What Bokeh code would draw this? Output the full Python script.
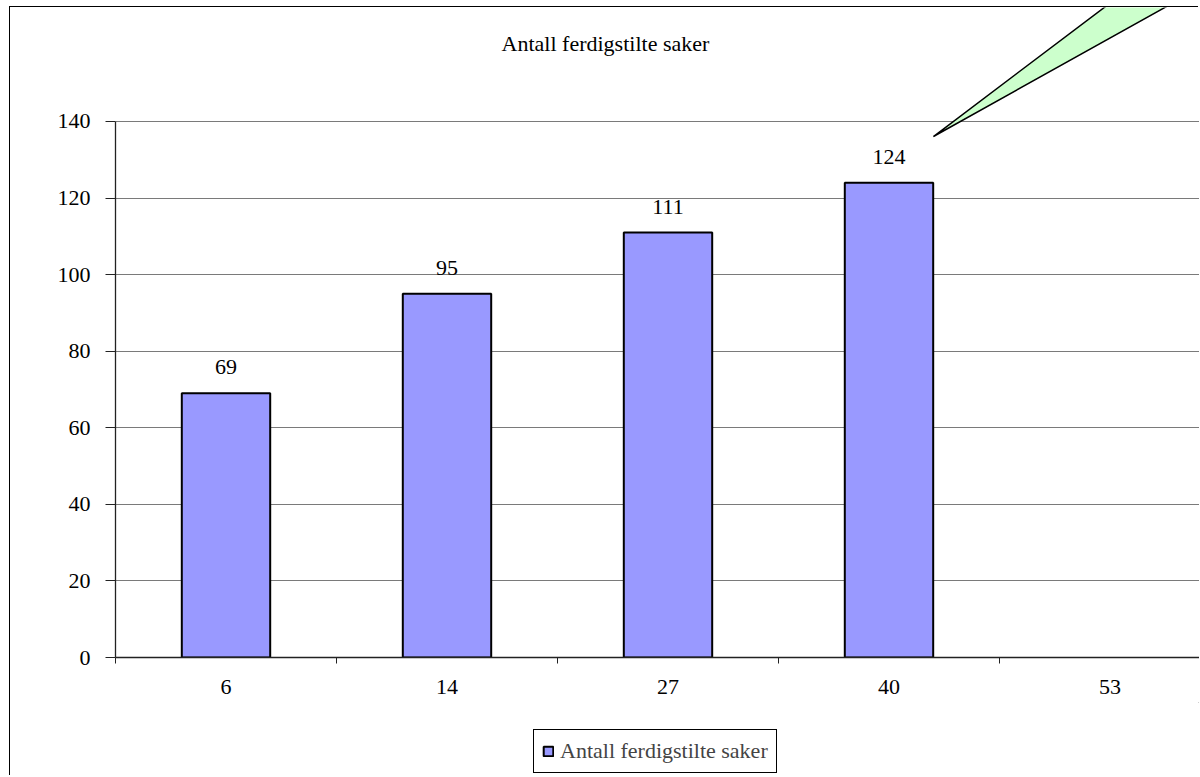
from bokeh.plotting import figure
from bokeh.layouts import column
from bokeh.models import (FixedTicker, Range1d, Label, PolyAnnotation,
                          Legend, LegendItem)
from bokeh.core.properties import value
from bokeh.embed import file_html
from bokeh.resources import INLINE

# ---- data ----
categories = ["6", "14", "27", "40", "53"]
counts = [69, 95, 111, 124]
y_ticks = [0, 20, 40, 60, 80, 100, 120, 140]
series_name = "Antall ferdigstilte saker"
title_text = "Antall ferdigstilte saker"

# ---- decoration geometry (callout pointer, data units) ----
callout_xs = [3.701, 4.516, 4.805]
callout_ys = [136.07, 171.6, 171.6]

FONT = "Liberation Serif"
FS = "22px"
BAR_FILL = "#9999FF"

centers = [i + 0.5 for i in range(len(categories))]
bar_x = centers[:len(counts)]

p = figure(width=1189, height=695, output_backend="svg", toolbar_location=None,
           x_range=Range1d(0, 4.905), y_range=Range1d(0, 169.77),
           min_border_left=105, min_border_right=0,
           min_border_top=0, min_border_bottom=45)
p.title = None
p.outline_line_color = None
p.background_fill_color = "white"
p.border_fill_color = "white"

bars = p.vbar(x=bar_x, top=counts, width=0.4, fill_color=BAR_FILL,
              line_color="black", line_width=2)

p.text(x=bar_x, y=counts, text=[str(v) for v in counts], text_align="center",
       text_baseline="alphabetic", y_offset=-26, text_font=value(FONT),
       text_font_size=FS, text_color="black")

# grid
p.xgrid.grid_line_color = None
p.ygrid.grid_line_color = "#7a7a7a"
p.ygrid.grid_line_width = 1.2
p.ygrid.ticker = FixedTicker(ticks=y_ticks)

# y axis
p.yaxis.ticker = FixedTicker(ticks=y_ticks)
p.yaxis.bounds = (0, 140)
p.yaxis.major_tick_out = 10
p.yaxis.major_tick_in = 0
p.yaxis.minor_tick_line_color = None
p.yaxis.major_label_standoff = 15
p.yaxis.axis_line_color = "#222222"
p.yaxis.axis_line_width = 1.3
p.yaxis.major_tick_line_color = "#222222"
p.yaxis.major_label_text_font = FONT
p.yaxis.major_label_text_font_size = FS
p.yaxis.major_label_text_color = "black"

# x axis: labels at category centres, tick marks between categories
p.xaxis.ticker = FixedTicker(ticks=centers, minor_ticks=list(range(len(categories) + 1)))
p.xaxis.major_label_overrides = {c: lab for c, lab in zip(centers, categories)}
p.xaxis.major_tick_line_color = None
p.xaxis.major_tick_out = 0
p.xaxis.major_tick_in = 0
p.xaxis.minor_tick_out = 6
p.xaxis.minor_tick_in = 0
p.xaxis.minor_tick_line_color = "#222222"
p.xaxis.axis_line_color = "#222222"
p.xaxis.axis_line_width = 1.3
p.xaxis.major_label_standoff = 16
p.xaxis.major_label_text_font = FONT
p.xaxis.major_label_text_font_size = FS
p.xaxis.major_label_text_color = "black"

# title
p.add_layout(Label(x=2.217, y=160.3, text=title_text, text_align="center",
                   text_baseline="alphabetic", text_font=FONT,
                   text_font_size=FS, text_color="black"))

# callout pointer
p.add_layout(PolyAnnotation(xs=callout_xs, ys=callout_ys, fill_color="#CCFFCC",
                            fill_alpha=1, line_color="black", line_alpha=1,
                            line_width=1.5))

# legend strip below the chart (proxy renderer sits outside the visible range)
lg = figure(width=1189, height=74, output_backend="svg", toolbar_location=None,
            x_axis_type=None, y_axis_type=None,
            x_range=Range1d(0, 1), y_range=Range1d(0, 1),
            min_border_left=0, min_border_right=0,
            min_border_top=0, min_border_bottom=0)
lg.title = None
lg.outline_line_color = None
lg.xgrid.visible = False
lg.ygrid.visible = False
proxy = lg.vbar(x=[5], top=[6], bottom=[5], width=0.4, fill_color=BAR_FILL,
                line_color="black", line_width=2)
legend = Legend(items=[LegendItem(label=series_name, renderers=[proxy])],
                location=(418, 3), orientation="horizontal",
                border_line_color="black", border_line_width=1,
                border_line_alpha=1,
                background_fill_color="white", background_fill_alpha=1,
                label_text_font=FONT, label_text_font_size=FS,
                glyph_width=12, glyph_height=12, label_standoff=6,
                padding=8, margin=0)
lg.add_layout(legend, "center")

layout = column(p, lg, spacing=0)
layout.styles = {"margin-left": "10px", "margin-top": "7px",
                 "box-shadow": "-1px -1px 0 0 black"}

open("out.html", "w").write(file_html(layout, INLINE))
